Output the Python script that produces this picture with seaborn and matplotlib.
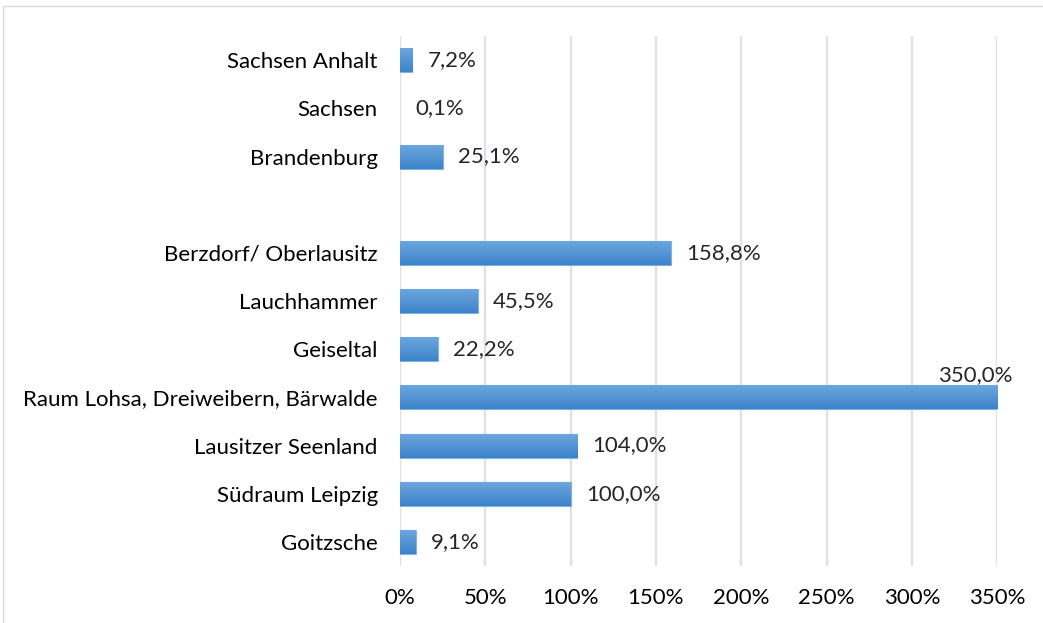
import numpy as np
import pandas as pd
import matplotlib
matplotlib.use("Agg")
import matplotlib.pyplot as plt
import matplotlib.patches as mpatches
from matplotlib.colors import LinearSegmentedColormap
import seaborn as sns

regions = ["Sachsen Anhalt", "Sachsen", "Brandenburg", " ",
           "Berzdorf/ Oberlausitz", "Lauchhammer", "Geiseltal",
           "Raum Lohsa, Dreiweibern, Bärwalde", "Lausitzer Seenland",
           "Südraum Leipzig", "Goitzsche"]
values = [7.2, 0.1, 25.1, np.nan, 158.8, 45.5, 22.2, 350.0, 104.0, 100.0, 9.1]
x_ticks = [0, 50, 100, 150, 200, 250, 300, 350]

df = pd.DataFrame({"region": regions, "value": values})

sns.set_theme(style="white")
plt.rcParams["font.family"] = ["Lato", "DejaVu Sans"]

fig = plt.figure(figsize=(10.43, 6.23), dpi=100)
ax = fig.add_axes([0.3835, 0.0915, 0.5725, 0.8505])

sns.barplot(data=df, x="value", y="region", order=regions, orient="h",
            color="#5B9BD5", width=0.5, ax=ax, zorder=3)

fs = 16
ax.set_xlim(0, 350)
ax.set_xticks(x_ticks)
ax.set_xticklabels([f"{t}%" for t in x_ticks])
ax.set_xlabel("")
ax.set_ylabel("")
ax.grid(axis="x", color="#DCE0E8", linewidth=1.6, zorder=0)
ax.grid(axis="y", visible=False)
for s in ax.spines.values():
    s.set_visible(False)
ax.tick_params(axis="both", length=0, labelsize=fs, colors="black")
ax.tick_params(axis="y", pad=16)
ax.tick_params(axis="x", pad=16)

# gradient fill for each bar (lighter on top)
cmap = LinearSegmentedColormap.from_list("bar", ["#6EA8DE", "#3D83CA"])
grad = np.linspace(0, 1, 64).reshape(-1, 1)
for patch in ax.patches:
    w = patch.get_width()
    if not np.isfinite(w) or w <= 0:
        continue
    x0, y0 = patch.get_x(), patch.get_y()
    h = patch.get_height()
    patch.set_facecolor("none")
    if w < 1:
        patch.set_edgecolor("none")
        continue
    patch.set_edgecolor("#80B3E4")
    patch.set_linewidth(0.8)
    im = ax.imshow(grad, cmap=cmap, aspect="auto", origin="upper",
                   extent=(x0, x0 + w, y0 + h, y0), zorder=3,
                   interpolation="bilinear")
    im.set_clip_path(patch)

ax.set_xlim(0, 350)
ax.set_ylim(len(regions) - 0.5, -0.5)

# value labels
vmax = np.nanmax(values)
for i, v in enumerate(values):
    if not np.isfinite(v):
        continue
    txt = f"{v:.1f}%".replace(".", ",")
    if v == vmax:
        ax.annotate(txt, (v, i - 0.25), xytext=(-16, 0), textcoords="offset points",
                    ha="center", va="bottom", fontsize=fs, zorder=5,
                    annotation_clip=False)
    else:
        ax.annotate(txt, (v, i), xytext=(11, 0), textcoords="offset points",
                    ha="left", va="center", fontsize=fs, zorder=5)

# outer chart frame
fig.patches.append(mpatches.Rectangle((0.003, -0.01), 1.1, 1.0,
                                      transform=fig.transFigure, fill=False,
                                      edgecolor="#D9D9D9", linewidth=1.0))

fig.savefig("out.png", dpi=100)
